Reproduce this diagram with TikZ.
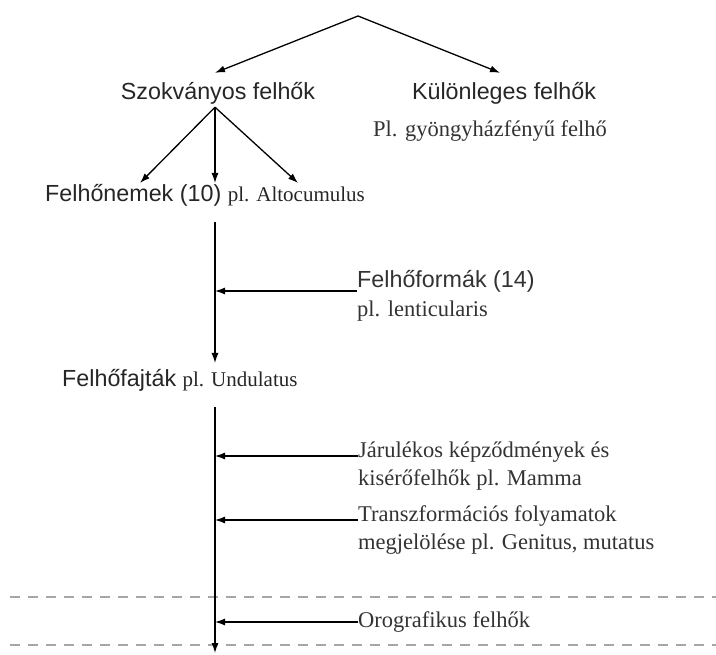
\documentclass[tikz,border=0pt]{standalone}
\usepackage{fontspec}
\setmainfont{Liberation Serif}
\newfontfamily\headfont{Liberation Sans}
\newcommand\plfont{\rmfamily\fontsize{21}{25}\selectfont}
\usetikzlibrary{arrows.meta,calc}
\tikzset{>={Latex[length=10pt,width=7pt]}}
\tikzset{
  head/.style={font=\headfont\fontsize{23.3}{27}\selectfont, text=black!85,
    inner sep=0pt, text height=17pt, text depth=5pt},
  note/.style={font=\rmfamily\fontsize{22.5}{28.5}\selectfont, text=black!80,
    inner sep=0pt, align=left},
  arr/.style={->, line width=1.3pt},
  sep/.style={gray!70, line width=1.2pt, dash pattern=on 10pt off 8pt}
}

\begin{document}
\begin{tikzpicture}[x=1pt,y=-1pt]
    \useasboundingbox (0,0) rectangle (716,655);
    % top split
    \coordinate (top) at (358,16);
    \node[head, anchor=base] (szok) at (218,100) {Szokványos felhők};
    \node[head, anchor=base] (kul) at (504,100) {Különleges felhők};
    \node[note, anchor=base west] (gyongy) at (373,137) {Pl. gyöngyházfényű felhő};
    \draw[arr] (top) -- ([yshift=10pt,xshift=-3pt]szok.north);
    \draw[arr] (top) -- ([yshift=10pt,xshift=-4pt]kul.north);

    % cloud genera
    \coordinate (n1) at (140,183);
    \coordinate (n2) at (215,183);
    \coordinate (n3) at (298,183);
    \foreach \n in {n1,n2,n3}
      \draw[arr] ([yshift=-2pt,xshift=-3pt]szok.south) -- (\n);
    \node[head, anchor=base west] (nemek) at (45,202) {Felhőnemek (10) {\plfont pl. Altocumulus}};

    % first axis
    \coordinate (axtop) at (215,222);
    \coordinate (axmid) at (215,363);
    \draw[arr] (axtop) -- (axmid);
    \node[note, anchor=west] (formak) at (357,296)
      {{\headfont\fontsize{23.3}{27}\selectfont Felhőformák (14)}\\pl. lenticularis};
    \draw[arr] ($(formak.west)+(0,-5)$) -- ($(formak.west -| axtop)+(0,-5)$);

    \node[head, anchor=base west] (fajtak) at (62,387) {Felhőfajták {\plfont pl. Undulatus}};

    % dashed band
    \draw[sep] (10,597) -- (716,597);
    \draw[sep] (10,645) -- (716,645);

    % second axis
    \coordinate (axlow) at (215,407);
    \coordinate (axend) at (215,653);
    \draw[arr] (axlow) -- (axend);
    \node[note, anchor=west] (jarul) at (358,466)
      {Járulékos képződmények és\\kisérőfelhők pl. Mamma};
    \draw[arr] ($(jarul.west)+(0,-10)$) -- ($(jarul.west -| axlow)+(0,-10)$);
    \node[note, anchor=west] (transz) at (358,530)
      {Transzformációs folyamatok\\megjelölése pl. Genitus, mutatus};
    \draw[arr] ($(transz.west)+(0,-10)$) -- ($(transz.west -| axlow)+(0,-10)$);
    \node[note, anchor=west] (oro) at (358,622) {Orografikus felhők};
    \draw[arr] (oro.west) -- (oro.west -| axlow);
\end{tikzpicture}
\end{document}
